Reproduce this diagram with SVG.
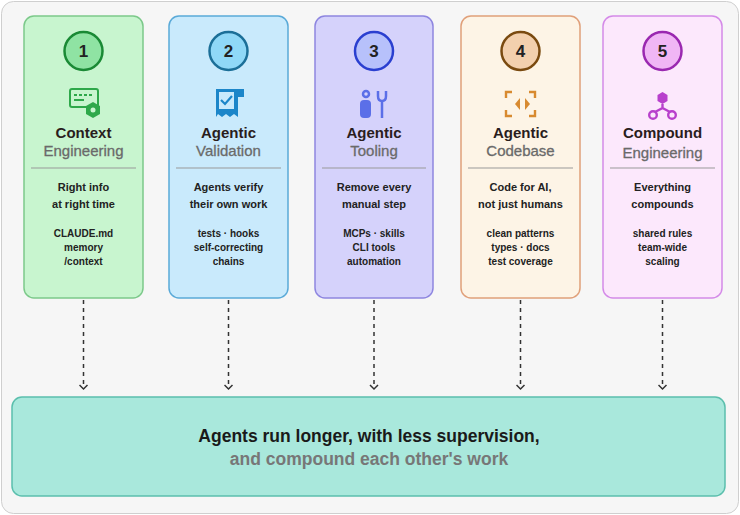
<svg xmlns="http://www.w3.org/2000/svg" width="740" height="515" viewBox="0 0 740 515">
<defs>
<style>
text{font-family:"Liberation Sans",Arial,sans-serif;text-anchor:middle;font-weight:bold}
.num{font-size:17px;fill:#222}
.t1{font-size:15px;fill:#2a1d1d}
.t2{font-size:15px;fill:#6a6a6a;font-weight:normal;stroke:#6a6a6a;stroke-width:0.3}
.d{font-size:11px;fill:#222}
.s{font-size:10px;fill:#222}
.div{stroke:#999;stroke-width:1}
.con{stroke:#333;stroke-width:1.5;stroke-dasharray:4 4;fill:none}
</style>
<marker id="ah" markerWidth="10" markerHeight="10" refX="5" refY="5" orient="auto" markerUnits="userSpaceOnUse"><path d="M1,1 L5,5 L1,9" fill="none" stroke="#333" stroke-width="1.5"/></marker>
</defs>
<rect x="1.5" y="1.5" width="737" height="512" rx="12" fill="#f6f6f6" stroke="#cfcfcf"/>
<g id="n1">
<rect x="24" y="16" width="119" height="282" rx="10" fill="#c8f5cf" stroke="#7cc98a" stroke-width="1.5"/>
<circle cx="83.5" cy="51" r="19" fill="#8fe3a3" stroke="#1a8a35" stroke-width="2.5"/>
<text class="num" x="83.5" y="57">1</text>
<g fill="none" stroke="#2ea84a" stroke-width="2"><rect x="70" y="89" width="28" height="18" rx="2"/></g>
<g fill="#2ea84a"><rect x="74" y="94" width="3" height="2"/><rect x="79" y="94" width="3" height="2"/><rect x="84" y="94" width="3" height="2"/><rect x="89" y="94" width="3" height="2"/><rect x="74" y="99" width="10" height="2"/><polygon points="93,102 100,106 100,114 93,118 86,114 86,106"/></g>
<circle cx="93" cy="110" r="2.5" fill="#c8f5cf"/>
<text class="t1" x="83.5" y="138">Context</text>
<text class="t2" x="83.5" y="156">Engineering</text>
<line class="div" x1="31" y1="168" x2="136" y2="168"/>
<text class="d" x="83.5" y="191">Right info</text>
<text class="d" x="83.5" y="208">at right time</text>
<text class="s" x="83.5" y="237">CLAUDE.md</text>
<text class="s" x="83.5" y="251">memory</text>
<text class="s" x="83.5" y="265">/context</text>
</g>
<g id="n2">
<rect x="169" y="16" width="119" height="282" rx="10" fill="#c9eafc" stroke="#5aaad8" stroke-width="1.5"/>
<circle cx="228.5" cy="51" r="19" fill="#8fd8f7" stroke="#1b6f98" stroke-width="2.5"/>
<text class="num" x="228.5" y="57">2</text>
<path d="M216,89 H238 V117 L234,114 L230,117 L226,114 L222,117 L218,114 L216,117 Z" fill="#1c86c9"/>
<rect x="219" y="92" width="15" height="17" fill="#c9eafc"/>
<path d="M238,89 H244 V97 H238 Z" fill="#1c86c9"/>
<path d="M221,100 L225,104 L232,96" fill="none" stroke="#1c86c9" stroke-width="2.2"/>
<text class="t1" x="228.5" y="138">Agentic</text>
<text class="t2" x="228.5" y="156">Validation</text>
<line class="div" x1="176" y1="168" x2="281" y2="168"/>
<text class="d" x="228.5" y="191">Agents verify</text>
<text class="d" x="228.5" y="208">their own work</text>
<text class="s" x="228.5" y="237">tests · hooks</text>
<text class="s" x="228.5" y="251">self-correcting</text>
<text class="s" x="228.5" y="265">chains</text>
</g>
<g id="n3">
<rect x="315" y="16" width="118" height="282" rx="10" fill="#d5d2fb" stroke="#8e86e0" stroke-width="1.5"/>
<circle cx="374" cy="51" r="19" fill="#b7c1fb" stroke="#2a3fd0" stroke-width="2.5"/>
<text class="num" x="374" y="57">3</text>
<g fill="none" stroke="#5b6fe8" stroke-width="2.5"><circle cx="366" cy="94" r="3"/><path d="M378,91 V96 Q378,101 382,101 Q386,101 386,96 V91 M382,101 V118"/></g>
<rect x="360" y="100" width="11" height="18" rx="4" fill="#5b6fe8"/>
<text class="t1" x="374" y="138">Agentic</text>
<text class="t2" x="374" y="156">Tooling</text>
<line class="div" x1="322" y1="168" x2="426" y2="168"/>
<text class="d" x="374" y="191">Remove every</text>
<text class="d" x="374" y="208">manual step</text>
<text class="s" x="374" y="237">MCPs · skills</text>
<text class="s" x="374" y="251">CLI tools</text>
<text class="s" x="374" y="265">automation</text>
</g>
<g id="n4">
<rect x="461" y="16" width="119" height="282" rx="10" fill="#fdf4e6" stroke="#e0a07a" stroke-width="1.5"/>
<circle cx="520.5" cy="51" r="19" fill="#f3d0ae" stroke="#7a4a10" stroke-width="2.5"/>
<text class="num" x="520.5" y="57">4</text>
<g fill="none" stroke="#d88a30" stroke-width="2.4"><path d="M506,98 V92 H512 M529,92 H535 V98 M535,110 V116 H529 M512,116 H506 V110"/></g>
<g fill="#d88a30"><polygon points="515,104 520,98 520,110"/><polygon points="530,104 525,98 525,110"/></g>
<text class="t1" x="520.5" y="138">Agentic</text>
<text class="t2" x="520.5" y="156">Codebase</text>
<line class="div" x1="468" y1="168" x2="573" y2="168"/>
<text class="d" x="520.5" y="191">Code for AI,</text>
<text class="d" x="520.5" y="208">not just humans</text>
<text class="s" x="520.5" y="237">clean patterns</text>
<text class="s" x="520.5" y="251">types · docs</text>
<text class="s" x="520.5" y="265">test coverage</text>
</g>
<g id="n5">
<rect x="603" y="16" width="119" height="282" rx="10" fill="#fce8fc" stroke="#d48ae8" stroke-width="1.5"/>
<circle cx="662.5" cy="51" r="19" fill="#f0b6f5" stroke="#9a28b0" stroke-width="2.5"/>
<text class="num" x="662.5" y="57">5</text>
<polygon points="662.5,92 667.5,95 667.5,101 662.5,104 657.5,101 657.5,95" fill="#b840cc"/>
<g fill="none" stroke="#b840cc" stroke-width="2.4"><path d="M662.5,104 V108 L655,112 M662.5,108 L670,112"/><circle cx="653" cy="115" r="3.8"/><circle cx="672" cy="115" r="3.8"/></g>
<text class="t1" x="662.5" y="138">Compound</text>
<text class="t2" x="662.5" y="158">Engineering</text>
<line class="div" x1="610" y1="168" x2="715" y2="168"/>
<text class="d" x="662.5" y="191">Everything</text>
<text class="d" x="662.5" y="208">compounds</text>
<text class="s" x="662.5" y="237">shared rules</text>
<text class="s" x="662.5" y="251">team-wide</text>
<text class="s" x="662.5" y="265">scaling</text>
</g>
<g id="connectors">
<line class="con" x1="83.5" y1="300" x2="83.5" y2="389" marker-end="url(#ah)"/>
<line class="con" x1="228.5" y1="300" x2="228.5" y2="389" marker-end="url(#ah)"/>
<line class="con" x1="374" y1="300" x2="374" y2="389" marker-end="url(#ah)"/>
<line class="con" x1="520.5" y1="300" x2="520.5" y2="389" marker-end="url(#ah)"/>
<line class="con" x1="662.5" y1="300" x2="662.5" y2="389" marker-end="url(#ah)"/>
</g>
<g id="result">
<rect x="12" y="397" width="713" height="99" rx="10" fill="#a9e8dc" stroke="#5bbfad" stroke-width="1.5"/>
<text x="369" y="442" style="font-size:17.5px;fill:#1a1a1a">Agents run longer, with less supervision,</text>
<text x="369" y="465" style="font-size:17.5px;fill:#777">and compound each other's work</text>
</g>
</svg>
